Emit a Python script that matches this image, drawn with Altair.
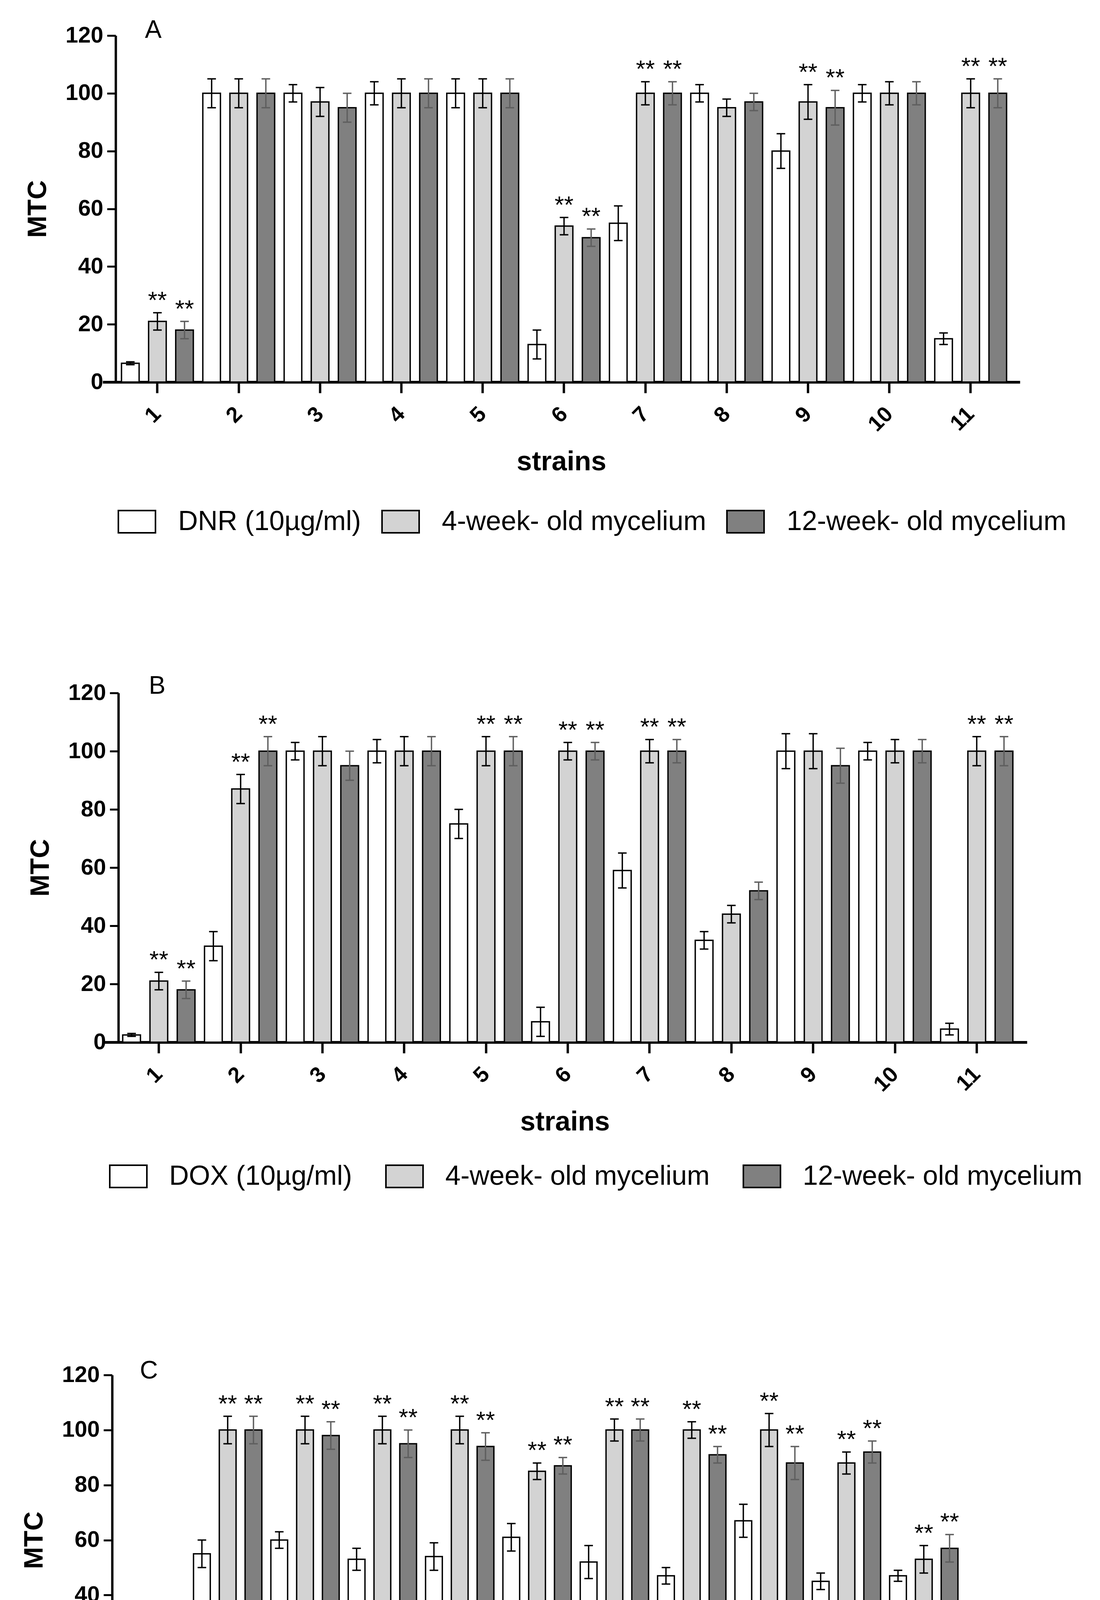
import altair as alt
import pandas as pd

strains = [str(i) for i in range(1, 12)]
light_name = "4-week- old mycelium"
dark_name = "12-week- old mycelium"

# ---------------- Panel A (DNR) ----------------
a_drug = "DNR (10µg/ml)"
a_drug_val = [6.5, 100, 100, 100, 100, 13, 55, 100, 80, 100, 15]
a_drug_err = [0.5, 5, 3, 4, 5, 5, 6, 3, 6, 3, 2]
a_light_val = [21, 100, 97, 100, 100, 54, 100, 95, 97, 100, 100]
a_light_err = [3, 5, 5, 5, 5, 3, 4, 3, 6, 4, 5]
a_dark_val = [18, 100, 95, 100, 100, 50, 100, 97, 95, 100, 100]
a_dark_err = [3, 5, 5, 5, 5, 3, 4, 3, 6, 4, 5]
a_light_sig = [1, 0, 0, 0, 0, 1, 1, 0, 1, 0, 1]
a_dark_sig = [1, 0, 0, 0, 0, 1, 1, 0, 1, 0, 1]

# ---------------- Panel B (DOX) ----------------
b_drug = "DOX (10µg/ml)"
b_drug_val = [2.5, 33, 100, 100, 75, 7, 59, 35, 100, 100, 4.5]
b_drug_err = [0.5, 5, 3, 4, 5, 5, 6, 3, 6, 3, 2]
b_light_val = [21, 87, 100, 100, 100, 100, 100, 44, 100, 100, 100]
b_light_err = [3, 5, 5, 5, 5, 3, 4, 3, 6, 4, 5]
b_dark_val = [18, 100, 95, 100, 100, 100, 100, 52, 95, 100, 100]
b_dark_err = [3, 5, 5, 5, 5, 3, 4, 3, 6, 4, 5]
b_light_sig = [1, 1, 0, 0, 1, 1, 1, 0, 0, 0, 1]
b_dark_sig = [1, 1, 0, 0, 1, 1, 1, 0, 0, 0, 1]

# ---------------- Panel C (MTX) ----------------
c_drug = "MTX (10µg/ml)"
c_drug_val = [3, 55, 60, 53, 54, 61, 52, 47, 67, 45, 47]
c_drug_err = [0.5, 5, 3, 4, 5, 5, 6, 3, 6, 3, 2]
c_light_val = [19, 100, 100, 100, 100, 85, 100, 100, 100, 88, 53]
c_light_err = [3, 5, 5, 5, 5, 3, 4, 3, 6, 4, 5]
c_dark_val = [25, 100, 98, 95, 94, 87, 100, 91, 88, 92, 57]
c_dark_err = [3, 5, 5, 5, 5, 3, 4, 3, 6, 4, 5]
c_light_sig = [1] * 11
c_dark_sig = [1] * 11

y_ticks = [0, 20, 40, 60, 80, 100, 120]

FONT = "Liberation Sans"


def make_panel(letter, drug, dv, de, lv, le, kv, ke, ls, ks, *, width, height,
               yoff, pad_outer, align, xlabel_fs, xlabel_pad, xtitle_fs,
               xtitle_pad, legend_fs, legend_x, legend_y, col_pad, lab_off,
               sym_path, sym_size, title_dx, title_dy):
    rows = []
    for i, s in enumerate(strains):
        rows.append(dict(strain=s, series=drug, value=dv[i], err=de[i], sig=0))
        rows.append(dict(strain=s, series=light_name, value=lv[i], err=le[i], sig=ls[i]))
        rows.append(dict(strain=s, series=dark_name, value=kv[i], err=ke[i], sig=ks[i]))
    df = pd.DataFrame(rows)
    df["hi"] = df["value"] + df["err"]
    df["lo"] = (df["value"] - df["err"]).clip(lower=0)
    order = [drug, light_name, dark_name]

    x = alt.X(
        "strain:N", sort=strains, title="strains",
        scale=alt.Scale(paddingInner=0, paddingOuter=pad_outer, align=align),
        axis=alt.Axis(
            labelAngle=-45, labelAlign="right", labelBaseline="middle",
            labelFont=FONT, labelFontSize=xlabel_fs, labelFontWeight="bold",
            labelPadding=xlabel_pad, labelColor="black",
            tickSize=28, tickWidth=6, tickColor="black",
            domainWidth=7, domainColor="black",
            titleFont=FONT, titleFontSize=xtitle_fs, titleFontWeight="bold",
            titlePadding=xtitle_pad, titleColor="black",
        ),
    )
    xo = alt.XOffset("series:N", sort=order,
                     scale=alt.Scale(domain=order, paddingInner=0.35, paddingOuter=0.175))
    yscale = alt.Scale(domain=[0, 120], nice=False)
    yaxis = alt.Axis(
        values=y_ticks, offset=yoff, grid=False,
        labelFont=FONT, labelFontSize=58, labelFontWeight="bold",
        labelPadding=10, labelColor="black",
        tickSize=22, tickWidth=5, tickColor="black",
        domainWidth=6, domainColor="black",
        titleFont=FONT, titleFontSize=68, titleFontWeight="bold",
        titlePadding=36, titleColor="black",
    )

    def Y(field):
        return alt.Y(field, type="quantitative", scale=yscale, title="MTC", axis=yaxis)

    base = alt.Chart(df)
    bars = base.mark_bar(stroke="black", strokeWidth=3.5, opacity=1).encode(
        x=x, xOffset=xo, y=Y("value"),
        fill=alt.Fill(
            "series:N", sort=order,
            scale=alt.Scale(domain=order, range=["white", "#d3d3d3", "#808080"]),
            legend=alt.Legend(
                title=None, orient="none", legendX=legend_x, legendY=legend_y,
                direction="horizontal", symbolType=sym_path, symbolSize=sym_size,
                symbolStrokeColor="black", symbolStrokeWidth=4, symbolOpacity=1,
                labelFont=FONT, labelFontSize=legend_fs, labelColor="black",
                labelOffset=lab_off, columnPadding=col_pad, labelLimit=3000,
                padding=0,
            ),
        ),
    )
    errc = alt.condition(alt.datum.series == dark_name, alt.value("#5f5f5f"), alt.value("black"))
    rule = base.mark_rule(strokeWidth=3.5).encode(
        x=x, xOffset=xo, y=Y("hi"), y2="lo:Q", color=errc)
    cap_hi = base.mark_tick(thickness=3.5, size=22, orient="horizontal", opacity=1).encode(
        x=x, xOffset=xo, y=Y("hi"), color=errc)
    cap_lo = base.mark_tick(thickness=3.5, size=22, orient="horizontal", opacity=1).encode(
        x=x, xOffset=xo, y=Y("lo"), color=errc)
    stars = base.transform_filter("datum.sig == 1").mark_text(
        text="**", baseline="alphabetic", align="center", dy=-12,
        font=FONT, fontSize=62, color="black").encode(
        x=x, xOffset=xo, y=Y("hi"))

    return alt.layer(bars, rule, cap_hi, cap_lo, stars).properties(
        width=width, height=height,
        title=alt.TitleParams(
            text=letter, anchor="start", frame="group", dx=title_dx, dy=title_dy,
            offset=0, baseline="alphabetic", font=FONT, fontSize=64,
            fontWeight="normal", color="black"),
    )


path_ab = "M-1,-0.6H1V0.6H-1Z"
path_c = "M-1,-0.56H1V0.56H-1Z"

pA = make_panel("A", a_drug, a_drug_val, a_drug_err, a_light_val, a_light_err,
                a_dark_val, a_dark_err, a_light_sig, a_dark_sig,
                width=2348, height=887, yoff=-33, pad_outer=0.139, align=0.62,
                xlabel_fs=56, xlabel_pad=45, xtitle_fs=70, xtitle_pad=34,
                legend_fs=70, legend_x=38, legend_y=1195, col_pad=45, lab_off=56,
                sym_path=path_ab, sym_size=9025, title_dx=108, title_dy=99)
pB = make_panel("B", b_drug, b_drug_val, b_drug_err, b_light_val, b_light_err,
                b_dark_val, b_dark_err, b_light_sig, b_dark_sig,
                width=2366, height=894, yoff=-40, pad_outer=0.15, align=0.62,
                xlabel_fs=56, xlabel_pad=45, xtitle_fs=70, xtitle_pad=34,
                legend_fs=70, legend_x=16, legend_y=1188, col_pad=78, lab_off=55,
                sym_path=path_ab, sym_size=9025, title_dx=118, title_dy=95)
pC = make_panel("C", c_drug, c_drug_val, c_drug_err, c_light_val, c_light_err,
                c_dark_val, c_dark_err, c_light_sig, c_dark_sig,
                width=2222, height=845, yoff=-24, pad_outer=0.111, align=0.52,
                xlabel_fs=54, xlabel_pad=45, xtitle_fs=67, xtitle_pad=22,
                legend_fs=66, legend_x=88, legend_y=1152, col_pad=90, lab_off=48,
                sym_path=path_c, sym_size=8100, title_dx=95, title_dy=102)

top = alt.vconcat(pA, pB, spacing=353).resolve_scale(
    fill="independent", xOffset="independent", x="independent", y="independent")
chart = alt.vconcat(top, pC, spacing=430).resolve_scale(
    fill="independent", xOffset="independent", x="independent", y="independent"
).properties(
    padding={"left": 46, "top": 38, "right": 10, "bottom": 10},
    background="white",
).configure_view(stroke=None)

chart.save("out.html", embed_options={"renderer": "svg", "actions": False})
